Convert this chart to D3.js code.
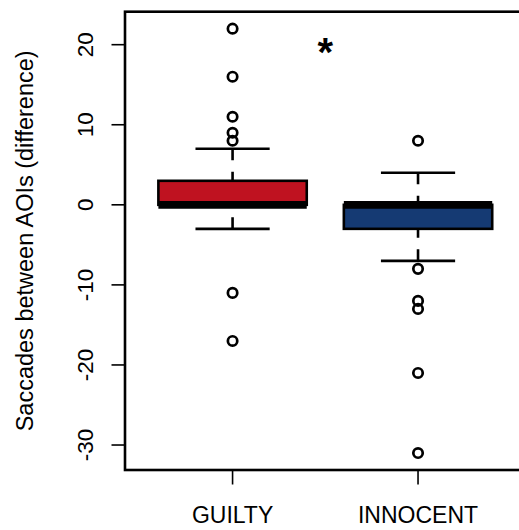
<!DOCTYPE html>
<html>
<head>
<meta charset="utf-8">
<script src="https://cdn.jsdelivr.net/npm/d3@7/dist/d3.min.js"></script>
<style>
  html, body { margin: 0; padding: 0; background: #fff; }
  svg { display: block; }
  text { font-family: "Liberation Sans", Arial, Helvetica, sans-serif; fill: #000; }
</style>
</head>
<body>
<div id="chart"></div>
<script>
// Groups and their five-number summaries (lower whisker, Q1, median, Q3, upper whisker)
const categories = ["GUILTY", "INNOCENT"];
const whiskerLow  = [-3, -7];
const q1          = [0, -3];
const medians     = [0, 0];
const q3          = [3, 0];
const whiskerHigh = [7, 4];
const outliersGuilty   = [22, 16, 11, 9, 8, -11, -17];
const outliersInnocent = [8, -8, -12, -13, -21, -31];
const fills = ["#BF1220", "#153A73"];
const yTicks = [-30, -20, -10, 0, 10, 20];
const yLabel = "Saccades between AOIs (difference)";
const marker = "*";

const outliers = [outliersGuilty, outliersInnocent];

const W = 519, H = 530;
const svg = d3.select("#chart").append("svg").attr("width", W).attr("height", H);
svg.append("rect").attr("width", W).attr("height", H).attr("fill", "#fff");

// R-style axis extents: data range padded by 4%
const allVals = [].concat(whiskerLow, whiskerHigh, outliersGuilty, outliersInnocent);
const lo = d3.min(allVals), hi = d3.max(allVals);
const pad = (hi - lo) * 0.04;
const y = d3.scaleLinear().domain([lo - pad, hi + pad]).range([470, 11.7]);

const xlo = 0.5, xhi = categories.length + 0.5, xpad = (xhi - xlo) * 0.04;
const x = d3.scaleLinear().domain([xlo - xpad, xhi + xpad]).range([125, 525.6]);

const boxHalf = 0.4;      // boxwex 0.8
const stapleHalf = 0.2;   // staple at half box width
const lw = 2.6;

const g = svg.append("g");

categories.forEach((cat, i) => {
  const cx = x(i + 1);
  const grp = g.append("g");
  // box
  grp.append("rect")
    .attr("x", x(i + 1 - boxHalf))
    .attr("y", y(q3[i]))
    .attr("width", x(i + 1 + boxHalf) - x(i + 1 - boxHalf))
    .attr("height", Math.max(0, y(q1[i]) - y(q3[i])))
    .attr("fill", fills[i])
    .attr("stroke", "#000")
    .attr("stroke-width", lw);
  // median
  grp.append("line")
    .attr("x1", x(i + 1 - boxHalf)).attr("x2", x(i + 1 + boxHalf))
    .attr("y1", y(medians[i])).attr("y2", y(medians[i]))
    .attr("stroke", "#000").attr("stroke-width", lw * 3);
  // dashed whiskers, drawn from the whisker end towards the box
  [[whiskerLow[i], q1[i]], [whiskerHigh[i], q3[i]]].forEach(([a, b]) => {
    grp.append("line")
      .attr("x1", cx).attr("x2", cx)
      .attr("y1", y(a)).attr("y2", y(b))
      .attr("stroke", "#000").attr("stroke-width", lw)
      .attr("stroke-dasharray", "11.5,11.5");
  });
  // staples
  [whiskerLow[i], whiskerHigh[i]].forEach(v => {
    grp.append("line")
      .attr("x1", x(i + 1 - stapleHalf)).attr("x2", x(i + 1 + stapleHalf))
      .attr("y1", y(v)).attr("y2", y(v))
      .attr("stroke", "#000").attr("stroke-width", lw);
  });
  // outliers
  grp.selectAll("circle.out").data(outliers[i]).enter().append("circle")
    .attr("class", "out")
    .attr("cx", cx).attr("cy", d => y(d))
    .attr("r", 4.7)
    .attr("fill", "none").attr("stroke", "#000").attr("stroke-width", 2.7);
});

// frame (right edge falls outside the window)
svg.append("rect")
  .attr("x", 125).attr("y", 11.7)
  .attr("width", 525.6 - 125).attr("height", 470 - 11.7)
  .attr("fill", "none").attr("stroke", "#000").attr("stroke-width", 2.6);

// y axis ticks and rotated labels
const yAxis = svg.append("g");
yAxis.selectAll("line").data(yTicks).enter().append("line")
  .attr("x1", 111.5).attr("x2", 125)
  .attr("y1", d => y(d)).attr("y2", d => y(d))
  .attr("stroke", "#000").attr("stroke-width", 1.6);
yAxis.selectAll("text").data(yTicks).enter().append("text")
  .attr("transform", d => `translate(93,${y(d)}) rotate(-90)`)
  .attr("text-anchor", "middle")
  .style("font-size", "22.5px")
  .text(d => d);

// x axis ticks and category labels
const xAxis = svg.append("g");
xAxis.selectAll("line").data(categories).enter().append("line")
  .attr("x1", (d, i) => x(i + 1)).attr("x2", (d, i) => x(i + 1))
  .attr("y1", 470).attr("y2", 484.5)
  .attr("stroke", "#000").attr("stroke-width", 1.6);
xAxis.selectAll("text").data(categories).enter().append("text")
  .attr("x", (d, i) => x(i + 1)).attr("y", 522.5)
  .attr("text-anchor", "middle")
  .style("font-size", "23px")
  .text(d => d);

// axis title
svg.append("text")
  .attr("transform", `translate(33,${(y.range()[0] + y.range()[1]) / 2}) rotate(-90)`)
  .attr("text-anchor", "middle")
  .style("font-size", "23.5px")
  .text(yLabel);

// significance marker between the groups
svg.append("text")
  .attr("x", x(1.5)).attr("y", 66)
  .attr("text-anchor", "middle")
  .style("font-size", "40px")
  .style("font-weight", "bold")
  .text(marker);
</script>
</body>
</html>
